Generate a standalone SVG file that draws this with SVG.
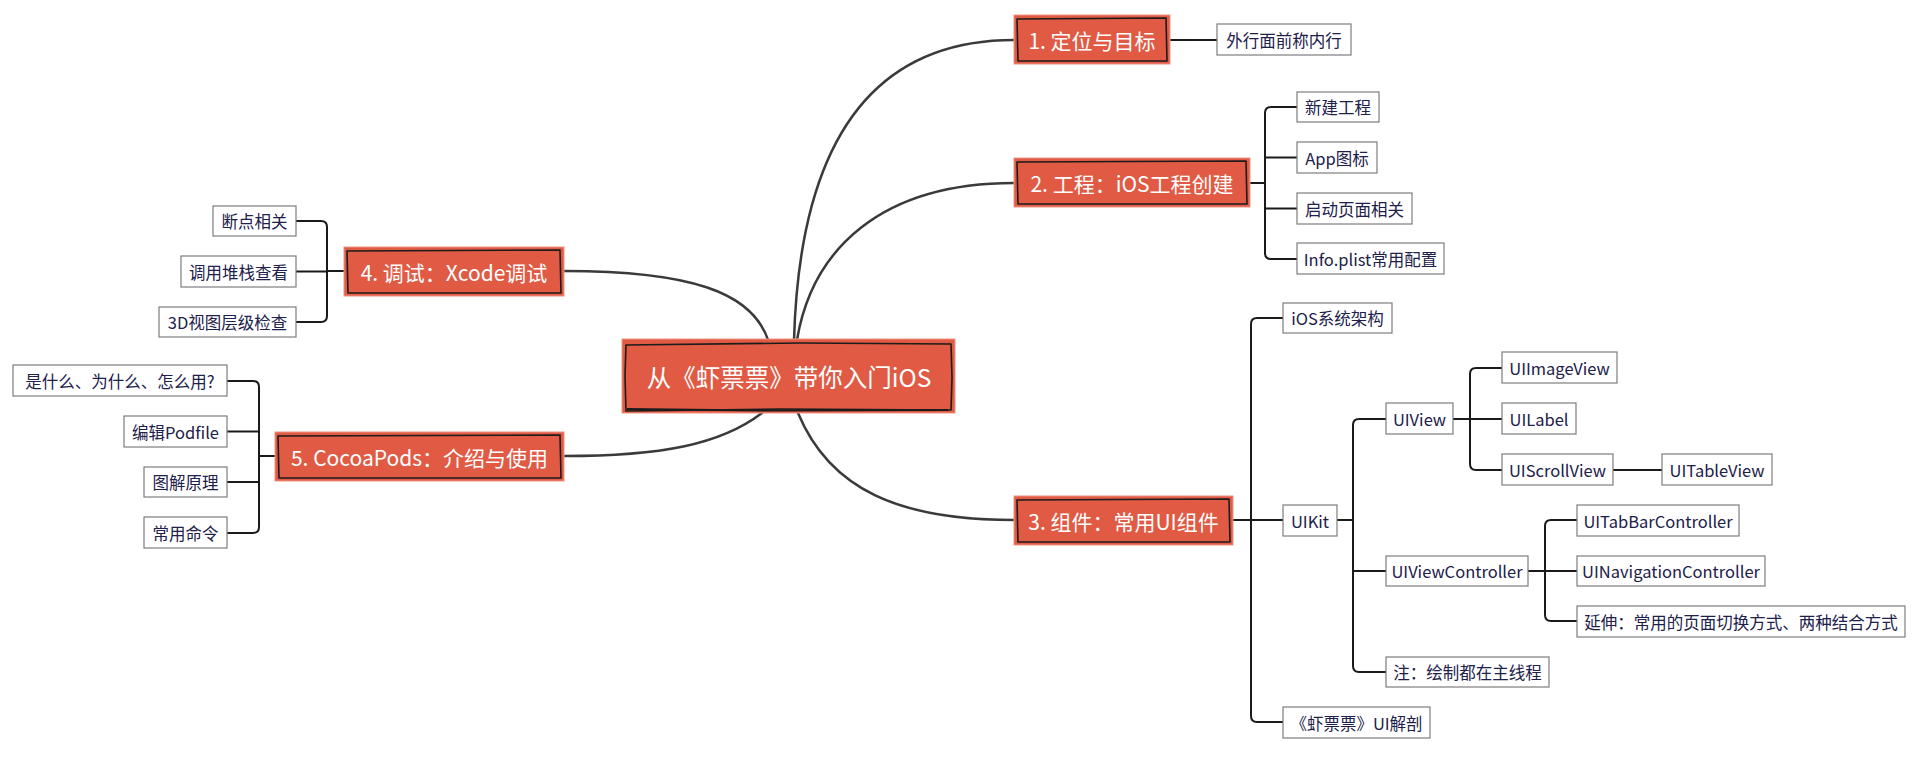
<svg xmlns="http://www.w3.org/2000/svg" width="1920" height="759" viewBox="0 0 1920 759">
<style>
.bg{fill:#ffffff}
.topic{fill:#E05A44;stroke:#EE9484;stroke-width:1}
.sketch{fill:none;stroke:#1c1c1c;stroke-width:1.6;stroke-linejoin:round}
.leaf{fill:#ffffff;stroke:#7d7d7d;stroke-width:1.2}
.tt{font-family:"Noto Sans CJK SC","Noto Sans",sans-serif;fill:#ffffff;text-anchor:middle;dominant-baseline:central}
.lt{font-family:"Noto Sans CJK SC","Noto Sans",sans-serif;fill:#20204a;font-size:16.5px;text-anchor:middle;dominant-baseline:central}
.curve{fill:none;stroke:#3a3a3a;stroke-width:2.5;stroke-linecap:round}
.br{fill:none;stroke:#1a1a1a;stroke-width:2;stroke-linecap:round;stroke-linejoin:round}
</style>
<rect class="bg" x="0" y="0" width="1920" height="759"/>

<g id="connectors">
  <path class="curve" d="M794 340 C800 130 880 40 1014 40"/>
  <path class="curve" d="M797 340 C812 250 880 183 1014 183"/>
  <path class="curve" d="M798 413 C830 490 900 520 1014 520"/>
  <path class="curve" d="M768 340 C752 292 690 271 564 271"/>
  <path class="curve" d="M762 413 C720 445 660 456 564 456"/>
  <path class="br" d="M1170 40 H1217"/>
  <path class="br" d="M1250 183 H1265"/>
  <path class="br" d="M1297 107 H1271 Q1265 107 1265 113 V253 Q1265 259 1271 259 H1297"/>
  <path class="br" d="M1265 157.5 H1297 M1265 208.5 H1297"/>
  <path class="br" d="M1233 520 H1283"/>
  <path class="br" d="M1283 318 H1257 Q1251 318 1251 324 V716 Q1251 722 1257 722 H1283"/>
  <path class="br" d="M1337 520 H1353"/>
  <path class="br" d="M1386 419 H1359 Q1353 419 1353 425 V666 Q1353 672 1359 672 H1386"/>
  <path class="br" d="M1353 571 H1386"/>
  <path class="br" d="M1453 419 H1502"/>
  <path class="br" d="M1502 368 H1476 Q1470 368 1470 374 V464 Q1470 470 1476 470 H1502"/>
  <path class="br" d="M1613 470 H1662"/>
  <path class="br" d="M1528 571 H1577"/>
  <path class="br" d="M1577 520 H1551 Q1545 520 1545 526 V615 Q1545 621 1551 621 H1577"/>
  <path class="br" d="M344 271 H327"/>
  <path class="br" d="M296 221 H321 Q327 221 327 227 V316 Q327 322 321 322 H296"/>
  <path class="br" d="M296 271.5 H327"/>
  <path class="br" d="M275 456 H259"/>
  <path class="br" d="M227 381 H253 Q259 381 259 387 V527 Q259 533 253 533 H227"/>
  <path class="br" d="M227 431.5 H259 M227 482 H259"/>
</g>

<g id="central">
  <rect class="topic" x="622" y="339" width="333" height="74"/>
  <path class="sketch" d="M626 345 L800 343 L951 344 L952 378 L951 410 L780 409 L626 411 L625 376 Z"/>
  <path class="sketch" d="M627 409 L760 410.5 L948 410" style="stroke-width:2.2"/>
  <text class="tt" x="789" y="376" font-size="24.5">从《虾票票》带你入门iOS</text>
</g>

<g id="n1">
  <rect class="topic" x="1014" y="15" width="156" height="49"/>
  <path class="sketch" d="M1017 19 L1166 18 L1167 61 L1018 61 Z"/>
  <text class="tt" x="1092" y="39.5" font-size="21">1. 定位与目标</text>
</g>
<g id="n1c1">
  <rect class="leaf" x="1217" y="24" width="134" height="31"/>
  <text class="lt" x="1284" y="39.5">外行面前称内行</text>
</g>

<g id="n2">
  <rect class="topic" x="1014" y="158" width="236" height="49"/>
  <path class="sketch" d="M1017 162 L1246 161 L1247 204 L1018 204 Z"/>
  <text class="tt" x="1132" y="182.5" font-size="21">2. 工程：iOS工程创建</text>
</g>
<g id="n2c1"><rect class="leaf" x="1297" y="92" width="82" height="30"/><text class="lt" x="1338" y="107">新建工程</text></g>
<g id="n2c2"><rect class="leaf" x="1297" y="142" width="80" height="31"/><text class="lt" x="1337" y="157.5">App图标</text></g>
<g id="n2c3"><rect class="leaf" x="1297" y="193" width="115" height="31"/><text class="lt" x="1354.5" y="208.5">启动页面相关</text></g>
<g id="n2c4"><rect class="leaf" x="1297" y="243" width="147" height="31"/><text class="lt" x="1370.5" y="258.5">Info.plist常用配置</text></g>

<g id="n3">
  <rect class="topic" x="1014" y="496" width="219" height="49"/>
  <path class="sketch" d="M1017 500 L1229 499 L1230 542 L1018 542 Z"/>
  <text class="tt" x="1123.5" y="520.5" font-size="21">3. 组件：常用UI组件</text>
</g>
<g id="n3c1"><rect class="leaf" x="1283" y="303" width="109" height="30"/><text class="lt" x="1337.5" y="318">iOS系统架构</text></g>
<g id="n3c2"><rect class="leaf" x="1283" y="505" width="54" height="31"/><text class="lt" x="1310" y="520.5">UIKit</text></g>
<g id="n3c3"><rect class="leaf" x="1283" y="707" width="147" height="31"/><text class="lt" x="1356.5" y="722.5">《虾票票》UI解剖</text></g>
<g id="uiview"><rect class="leaf" x="1386" y="403" width="67" height="31"/><text class="lt" x="1419.5" y="418.5">UIView</text></g>
<g id="uivc"><rect class="leaf" x="1386" y="556" width="142" height="30"/><text class="lt" x="1457" y="571">UIViewController</text></g>
<g id="note"><rect class="leaf" x="1386" y="657" width="163" height="30"/><text class="lt" x="1467.5" y="672">注：绘制都在主线程</text></g>
<g id="uiimageview"><rect class="leaf" x="1502" y="352" width="115" height="31"/><text class="lt" x="1559.5" y="367.5">UIImageView</text></g>
<g id="uilabel"><rect class="leaf" x="1502" y="403" width="74" height="31"/><text class="lt" x="1539" y="418.5">UILabel</text></g>
<g id="uiscrollview"><rect class="leaf" x="1502" y="454" width="111" height="31"/><text class="lt" x="1557.5" y="469.5">UIScrollView</text></g>
<g id="uitableview"><rect class="leaf" x="1662" y="454" width="110" height="31"/><text class="lt" x="1717" y="469.5">UITableView</text></g>
<g id="uitabbar"><rect class="leaf" x="1577" y="505" width="162" height="31"/><text class="lt" x="1658" y="520.5">UITabBarController</text></g>
<g id="uinav"><rect class="leaf" x="1577" y="556" width="188" height="30"/><text class="lt" x="1671" y="571">UINavigationController</text></g>
<g id="extend"><rect class="leaf" x="1577" y="606" width="328" height="31"/><text class="lt" x="1741" y="621.5">延伸：常用的页面切换方式、两种结合方式</text></g>

<g id="n4">
  <rect class="topic" x="344" y="247" width="220" height="49"/>
  <path class="sketch" d="M347 251 L560 250 L561 293 L348 293 Z"/>
  <text class="tt" x="454" y="271.5" font-size="21">4. 调试：Xcode调试</text>
</g>
<g id="n4c1"><rect class="leaf" x="213" y="206" width="83" height="30"/><text class="lt" x="254.5" y="221">断点相关</text></g>
<g id="n4c2"><rect class="leaf" x="181" y="256" width="115" height="31"/><text class="lt" x="238.5" y="271.5">调用堆栈查看</text></g>
<g id="n4c3"><rect class="leaf" x="159" y="307" width="137" height="30"/><text class="lt" x="227.5" y="322">3D视图层级检查</text></g>

<g id="n5">
  <rect class="topic" x="275" y="432" width="289" height="49"/>
  <path class="sketch" d="M278 436 L560 435 L561 478 L279 478 Z"/>
  <text class="tt" x="419.5" y="456.5" font-size="21">5. CocoaPods：介绍与使用</text>
</g>
<g id="n5c1"><rect class="leaf" x="13" y="365" width="214" height="31"/><text class="lt" x="120" y="380.5">是什么、为什么、怎么用?</text></g>
<g id="n5c2"><rect class="leaf" x="124" y="416" width="103" height="31"/><text class="lt" x="175.5" y="431.5">编辑Podfile</text></g>
<g id="n5c3"><rect class="leaf" x="144" y="467" width="83" height="30"/><text class="lt" x="185.5" y="482">图解原理</text></g>
<g id="n5c4"><rect class="leaf" x="144" y="517" width="83" height="31"/><text class="lt" x="185.5" y="532.5">常用命令</text></g>
</svg>
